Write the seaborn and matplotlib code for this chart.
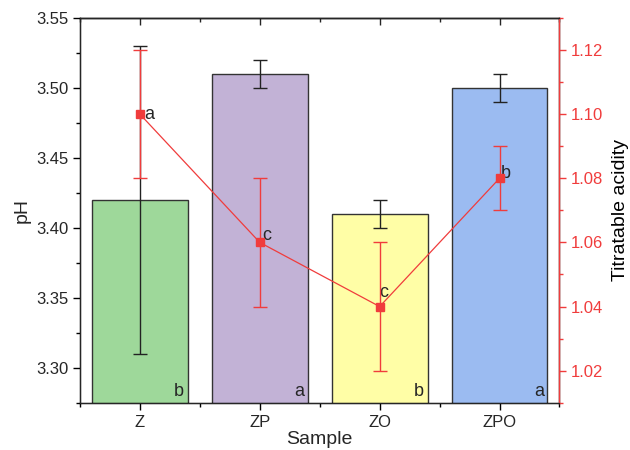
import matplotlib
matplotlib.use("Agg")
import matplotlib.pyplot as plt
import matplotlib.transforms as mtransforms
from matplotlib.ticker import MultipleLocator, NullFormatter
import seaborn as sns
import pandas as pd
import numpy as np

# data
samples = ["Z", "ZP", "ZO", "ZPO"]
ph = [3.42, 3.51, 3.41, 3.50]
ph_err = [0.11, 0.01, 0.01, 0.01]
ph_letters = ["b", "a", "b", "a"]
acidity = [1.10, 1.06, 1.04, 1.08]
acidity_err = [0.02, 0.02, 0.02, 0.01]
acidity_letters = ["a", "c", "c", "b"]

bar_colors = ["#9ed89a", "#c2b2d6", "#fffea6", "#9bbbf1"]
red = "#f03c3c"

sns.set_style("ticks")
plt.rcParams["font.family"] = ["Liberation Sans", "DejaVu Sans"]

df = pd.DataFrame({"Sample": samples, "pH": ph})

fig, ax = plt.subplots(figsize=(6.3, 4.5), dpi=100)
fig.subplots_adjust(left=0.127, right=0.888, top=0.96, bottom=0.105)

sns.barplot(data=df, x="Sample", y="pH", hue="Sample", palette=bar_colors,
            saturation=1, width=0.8, edgecolor="#333333", linewidth=1,
            legend=False, ax=ax)
ax.errorbar(np.arange(len(samples)), ph, yerr=ph_err, fmt="none",
            ecolor="#222222", elinewidth=1, capsize=5, capthick=1, zorder=3)

ax.set_xlim(-0.5, 3.5)
ax.set_ylim(3.275, 3.55)
ax.yaxis.set_major_locator(MultipleLocator(0.05))
ax.yaxis.set_minor_locator(MultipleLocator(0.025))
ax.set_xticks(np.arange(len(samples)))
ax.set_xticks(np.arange(-0.5, 4, 1), minor=True)
ax.tick_params(axis="both", which="both", direction="out", labelsize=12,
               color="black", width=1)
ax.tick_params(which="major", length=5)
ax.tick_params(which="minor", length=3)
for s in ["left", "bottom", "top", "right"]:
    ax.spines[s].set_color("black")
    ax.spines[s].set_linewidth(1)
ax.set_xlabel("Sample", fontsize=14, labelpad=1)
ax.set_ylabel("pH", fontsize=14, labelpad=4)

# top ticks point inward
top = ax.secondary_xaxis("top")
top.set_xticks(np.arange(len(samples)))
top.set_xticks(np.arange(-0.5, 4, 1), minor=True)
top.xaxis.set_major_formatter(NullFormatter())
top.tick_params(axis="x", which="both", direction="in", width=1)
top.tick_params(which="major", length=5)
top.tick_params(which="minor", length=3)
top.spines["top"].set_linewidth(1)

# letters for pH at the bottom right of each bar
trans = mtransforms.blended_transform_factory(ax.transData, ax.transAxes)
for i, let in enumerate(ph_letters):
    ax.text(i + 0.37, 0.008, let, transform=trans, ha="right", va="bottom",
            fontsize=13)

ax2 = ax.twinx()
ax2.errorbar(np.arange(len(samples)), acidity, yerr=acidity_err, color=red,
             ecolor=red, elinewidth=1, capsize=5, capthick=1, lw=0.9,
             marker="s", markersize=6, zorder=4)
ax2.set_ylim(1.01, 1.13)
ax2.yaxis.set_major_locator(MultipleLocator(0.02))
ax2.yaxis.set_minor_locator(MultipleLocator(0.01))
ax2.tick_params(axis="y", which="both", direction="out", colors=red,
                labelsize=12, width=1)
ax2.tick_params(which="major", length=5)
ax2.tick_params(which="minor", length=3)
ax2.spines["right"].set_color(red)
ax2.spines["right"].set_linewidth(1)
ax2.set_ylabel("Titratable acidity", fontsize=14, color="black", labelpad=6)

offsets = [(3, -6), (2, -1), (0, 4), (1, -3)]
for i, (let, off) in enumerate(zip(acidity_letters, offsets)):
    ax2.annotate(let, (i, acidity[i]), xytext=off, textcoords="offset points",
                 ha="left", va="bottom", fontsize=13)

fig.savefig("out.png", dpi=100)
